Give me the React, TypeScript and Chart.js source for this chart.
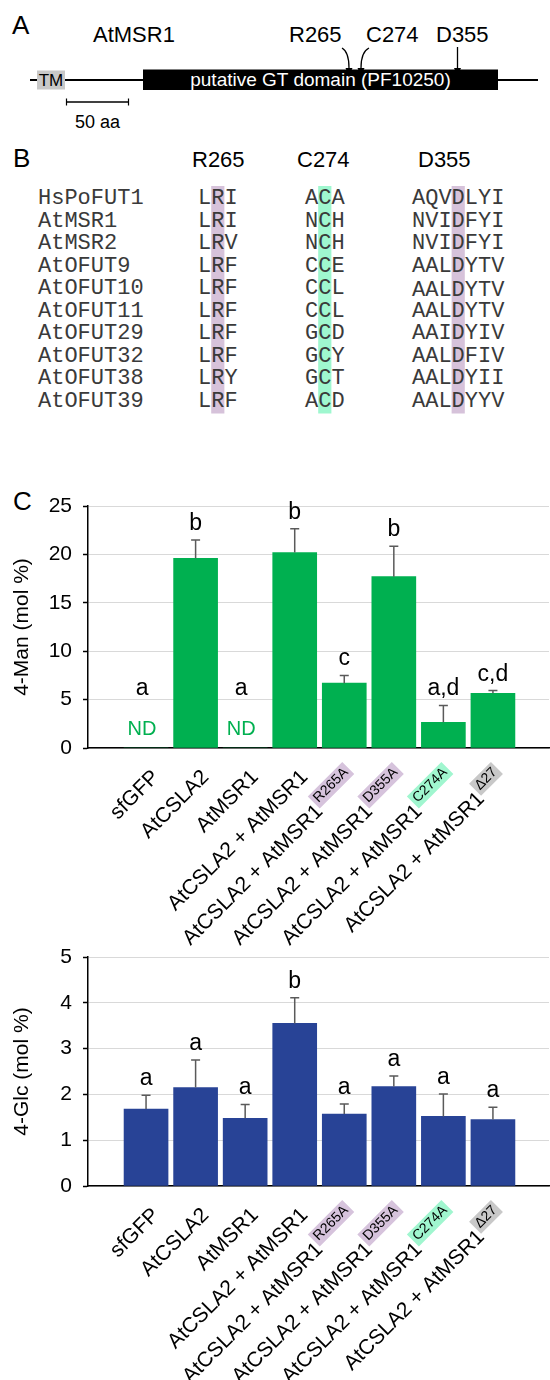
import React, { useEffect, useRef } from "react";
import { Chart, registerables } from "chart.js";

Chart.register(...registerables);

// ---------- data ----------
const categories = [
  "sfGFP",
  "AtCSLA2",
  "AtMSR1",
  "AtCSLA2 + AtMSR1",
  "AtCSLA2 + AtMSR1",
  "AtCSLA2 + AtMSR1",
  "AtCSLA2 + AtMSR1",
  "AtCSLA2 + AtMSR1",
];
const variantTags = ["", "", "", "", "R265A", "D355A", "C274A", "Δ27"];
const variantColors = ["", "", "", "", "#d6c3dc", "#d6c3dc", "#a0f6cf", "#c8c8c8"];

const manMeans = [0, 19.6, 0, 20.2, 6.7, 17.7, 2.65, 5.65];
const manErrors = [0, 1.9, 0, 2.45, 0.8, 3.15, 1.75, 0.28];
const manLetters = ["a", "b", "a", "b", "c", "b", "a,d", "c,d"];
const manNotDetected = [true, false, true, false, false, false, false, false];
const manTicks = [0, 5, 10, 15, 20, 25];

const glcMeans = [1.68, 2.15, 1.48, 3.55, 1.57, 2.17, 1.52, 1.45];
const glcErrors = [0.3, 0.6, 0.3, 0.56, 0.22, 0.23, 0.49, 0.27];
const glcLetters = ["a", "a", "a", "b", "a", "a", "a", "a"];
const glcNotDetected = [false, false, false, false, false, false, false, false];
const glcTicks = [0, 1, 2, 3, 4, 5];

const seqNames = ["HsPoFUT1", "AtMSR1", "AtMSR2", "AtOFUT9", "AtOFUT10", "AtOFUT11", "AtOFUT29", "AtOFUT32", "AtOFUT38", "AtOFUT39"];
const motifR = ["LRI", "LRI", "LRV", "LRF", "LRF", "LRF", "LRF", "LRF", "LRY", "LRF"];
const motifC = ["ACA", "NCH", "NCH", "CCE", "CCL", "CCL", "GCD", "GCY", "GCT", "ACD"];
const motifD = ["AQVDLYI", "NVIDFYI", "NVIDFYI", "AALDYTV", "AALDYTV", "AALDYTV", "AAIDYIV", "AALDFIV", "AALDYII", "AALDYYV"];
const siteLabels = ["R265", "C274", "D355"];

// ---------- styles ----------
const SANS = '"Liberation Sans", Arial, sans-serif';
const MONO = '"Liberation Mono", "Courier New", monospace';
const PURPLE = "#d6c2da";
const GREEN = "#9ff7cf";

type PanelProps = {
  top: number;
  height: number;
  plotTop: number;
  plotBottom: number;
  means: number[];
  errors: number[];
  letters: string[];
  nd: boolean[];
  ticks: number[];
  color: string;
  title: string;
};

function BarPanel(p: PanelProps) {
  const ref = useRef<HTMLCanvasElement | null>(null);
  useEffect(() => {
    if (!ref.current) return;
    const annot = {
      id: "annot",
      afterDatasetsDraw(chart: any) {
        const { ctx } = chart;
        const xs = chart.scales.x;
        const ys = chart.scales.y;
        const y0 = ys.getPixelForValue(0);
        ctx.save();
        for (let i = 0; i < p.means.length; i++) {
          let cx = xs.getPixelForValue(i);
          let anchor: number;
          if (p.nd[i]) {
            cx -= 4;
            ctx.fillStyle = p.color;
            ctx.font = `20px ${SANS}`;
            ctx.textAlign = "center";
            ctx.textBaseline = "alphabetic";
            ctx.fillText("ND", cx, y0 - 13);
            anchor = y0 - 43;
          } else {
            const yt = ys.getPixelForValue(p.means[i]);
            const ye = ys.getPixelForValue(p.means[i] + p.errors[i]);
            ctx.strokeStyle = "#5a5a5a";
            ctx.lineWidth = 1.5;
            ctx.beginPath();
            ctx.moveTo(cx, yt);
            ctx.lineTo(cx, ye);
            ctx.moveTo(cx - 4.5, ye);
            ctx.lineTo(cx + 4.5, ye);
            ctx.stroke();
            anchor = ye;
          }
          ctx.fillStyle = "#000";
          ctx.font = `23px ${SANS}`;
          ctx.textAlign = "center";
          ctx.textBaseline = "alphabetic";
          ctx.fillText(p.letters[i], cx, anchor - 10);
        }
        ctx.restore();
      },
      afterDraw(chart: any) {
        const { ctx, chartArea } = chart;
        const xs = chart.scales.x;
        ctx.save();
        for (let i = 0; i < categories.length; i++) {
          const cx = xs.getPixelForValue(i);
          ctx.save();
          ctx.translate(cx + 10, chartArea.bottom + 26);
          ctx.rotate(-Math.PI / 4);
          ctx.font = `21px ${SANS}`;
          const mainW = ctx.measureText(categories[i]).width;
          const tag = variantTags[i];
          let tagW = 0;
          if (tag) {
            ctx.font = `14px ${SANS}`;
            tagW = ctx.measureText(tag).width + 6;
          }
          ctx.font = `21px ${SANS}`;
          ctx.fillStyle = "#000";
          ctx.textAlign = "left";
          ctx.textBaseline = "middle";
          ctx.fillText(categories[i], -(mainW + tagW), 0);
          if (tag) {
            ctx.fillStyle = variantColors[i];
            ctx.fillRect(-tagW, -17, tagW, 17);
            ctx.fillStyle = "#000";
            ctx.font = `14px ${SANS}`;
            ctx.textAlign = "center";
            ctx.fillText(tag, -tagW / 2, -8.5);
          }
          ctx.restore();
        }
        ctx.restore();
      },
    };
    const chart = new Chart(ref.current, {
      type: "bar",
      data: {
        datasets: [
          {
            data: p.means.map((v, i) => ({ x: i, y: v })),
            backgroundColor: p.color,
            borderWidth: 0,
            barThickness: 44,
          } as any,
        ],
      },
      options: {
        animation: false,
        responsive: false,
        devicePixelRatio: 1,
        layout: { padding: { top: p.plotTop, bottom: p.height - p.plotBottom, left: 0, right: 1 } },
        plugins: { legend: { display: false }, tooltip: { enabled: false } },
        scales: {
          x: {
            type: "linear",
            min: -0.59,
            max: 7.55,
            grid: { display: false, drawTicks: false },
            ticks: { display: false },
            border: { display: true, color: "#000", width: 1.5 },
            afterFit: (s: any) => {
              s.height = 0;
            },
          },
          y: {
            min: p.ticks[0],
            max: p.ticks[p.ticks.length - 1],
            afterBuildTicks: (s: any) => {
              s.ticks = p.ticks.map((v) => ({ value: v }));
            },
            ticks: { font: { family: SANS, size: 21 }, color: "#000", padding: 11 },
            grid: { color: "#d9d9d9", lineWidth: 1, tickColor: "#000", tickLength: 5, tickWidth: 1.5 },
            border: { display: true, color: "#000", width: 1.5 },
            title: {
              display: true,
              text: p.title,
              font: { family: SANS, size: 21 },
              color: "#000",
              padding: { top: 10, bottom: 0 },
            },
            afterFit: (s: any) => {
              s.width = 88;
            },
          },
        },
      } as any,
      plugins: [annot as any],
    });
    return () => chart.destroy();
  }, []);
  return (
    <canvas
      ref={ref}
      width={550}
      height={p.height}
      style={{ position: "absolute", left: 0, top: p.top, width: 550, height: p.height }}
    />
  );
}

function Arrow({ d, tip }: { d: string; tip: [number, number] }) {
  const [x, y] = tip;
  return (
    <g>
      <path d={d} fill="none" stroke="#000" strokeWidth={1.3} />
      <polygon points={`${x - 3.5},${y - 8} ${x + 3.5},${y - 8} ${x},${y}`} fill="#000" />
    </g>
  );
}

function Diagrams() {
  const rowBase = 204;
  const rowStep = 22.5;
  const charW = 13.2;
  const colR = 198;
  const colC = 305;
  const colD = 412;
  const hlTop = rowBase - 18;
  const hlBottom = rowBase + rowStep * (seqNames.length - 1) + 7;
  return (
    <svg
      width={550}
      height={530}
      style={{ position: "absolute", left: 0, top: 0 }}
      fontFamily={SANS}
    >
      {/* Panel A */}
      <text x={12} y={34} fontSize={26}>A</text>
      <text x={93} y={42} fontSize={22}>AtMSR1</text>
      <text x={289} y={42} fontSize={22}>{siteLabels[0]}</text>
      <text x={366} y={42} fontSize={22}>{siteLabels[1]}</text>
      <text x={436} y={42} fontSize={22}>{siteLabels[2]}</text>
      <Arrow d="M 342 48 Q 349 52 349 68" tip={[349, 76]} />
      <Arrow d="M 369 48 Q 361 52 361 68" tip={[361, 76]} />
      <Arrow d="M 457.5 47 L 457.5 68" tip={[457.5, 76]} />
      <line x1={30} y1={80} x2={538} y2={80} stroke="#000" strokeWidth={1.8} />
      <rect x={37} y={70.5} width={28} height={19} fill="#c8c8c8" />
      <text x={51} y={86} fontSize={17} textAnchor="middle">TM</text>
      <rect x={143} y={69.5} width={355} height={20.5} fill="#000" />
      <text x={320.5} y={86} fontSize={19} textAnchor="middle" fill="#fff">
        putative GT domain (PF10250)
      </text>
      <line x1={66.5} y1={102} x2={128.5} y2={102} stroke="#000" strokeWidth={1.5} />
      <line x1={66.5} y1={98.5} x2={66.5} y2={105.5} stroke="#000" strokeWidth={1.2} />
      <line x1={128.5} y1={98.5} x2={128.5} y2={105.5} stroke="#000" strokeWidth={1.2} />
      <text x={75} y={128} fontSize={18}>50 aa</text>

      {/* Panel B */}
      <text x={13} y={167} fontSize={26}>B</text>
      <text x={192} y={167} fontSize={22}>{siteLabels[0]}</text>
      <text x={297} y={167} fontSize={22}>{siteLabels[1]}</text>
      <text x={418} y={167} fontSize={22}>{siteLabels[2]}</text>
      <rect x={colR + charW} y={hlTop} width={charW} height={hlBottom - hlTop} fill={PURPLE} />
      <rect x={colC + charW} y={hlTop} width={charW} height={hlBottom - hlTop} fill={GREEN} />
      <rect x={colD + charW * 3} y={hlTop} width={charW} height={hlBottom - hlTop} fill={PURPLE} />
      <g fontFamily={MONO} fontSize={22} fill="#3a3a3a">
        {seqNames.map((n, i) => {
          const y = rowBase + i * rowStep;
          return (
            <g key={n}>
              <text x={38} y={y}>{n}</text>
              <text x={colR} y={y}>{motifR[i]}</text>
              <text x={colC} y={y}>{motifC[i]}</text>
              <text x={colD} y={y + (i === 4 ? 2 : 0)}>{motifD[i]}</text>
            </g>
          );
        })}
      </g>

      {/* Panel C letter */}
      <text x={13} y={510} fontSize={26}>C</text>
    </svg>
  );
}

export default function App() {
  return (
    <div style={{ position: "absolute", left: 0, top: 0, width: 550, height: 1380, background: "#fff" }}>
      <Diagrams />
      <BarPanel
        top={470}
        height={490}
        plotTop={36}
        plotBottom={278}
        means={manMeans}
        errors={manErrors}
        letters={manLetters}
        nd={manNotDetected}
        ticks={manTicks}
        color="#00b050"
        title="4-Man (mol %)"
      />
      <BarPanel
        top={920}
        height={460}
        plotTop={37}
        plotBottom={266}
        means={glcMeans}
        errors={glcErrors}
        letters={glcLetters}
        nd={glcNotDetected}
        ticks={glcTicks}
        color="#284396"
        title="4-Glc (mol %)"
      />
    </div>
  );
}
